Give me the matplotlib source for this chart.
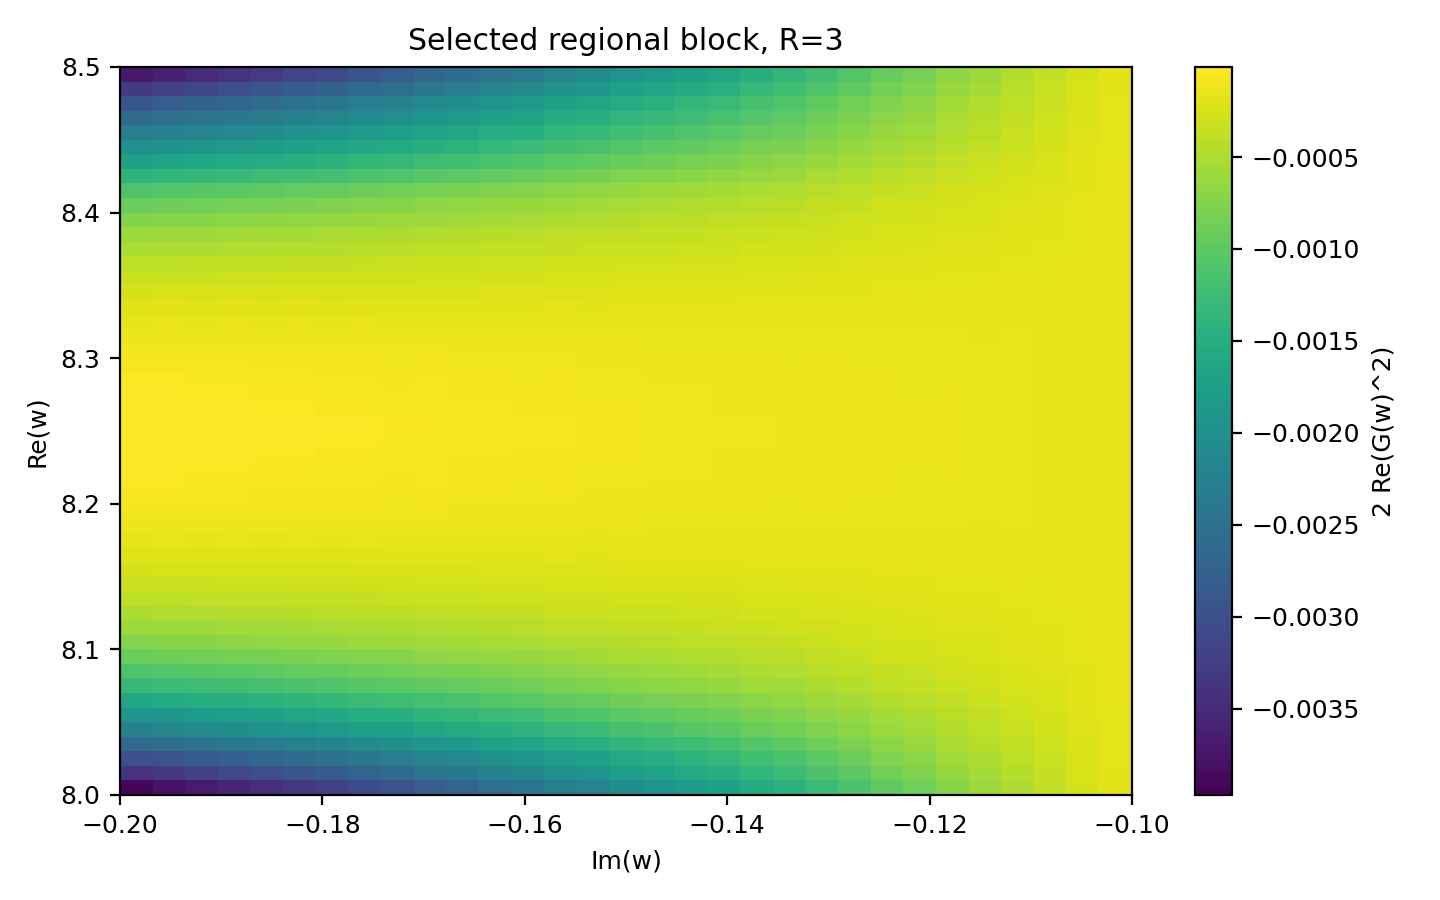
import matplotlib
matplotlib.use('Agg')
import matplotlib.pyplot as plt
import numpy as np

plt.rcParams['font.size'] = 9

# row edges along Re(w), column edges along Im(w)
re_edges = np.linspace(8.0, 8.5, 51)
im_edges = np.linspace(-0.2, -0.1, 32)

# value of 2 Re(G^2) in left column, bottom half of rows (bottom -> middle)
row_profile_low = [-0.0039, -0.0034, -0.0030, -0.0026, -0.0022, -0.0019, -0.0016, -0.0013,
                   -0.0011, -0.0009, -0.00073, -0.0006, -0.00049, -0.0004, -0.00032, -0.00025,
                   -0.00019, -0.00014, -0.0001, -0.00007, -0.00005, -0.00003, -0.00002, -0.00001, 0.0]
# top half of rows (middle -> top)
row_profile_high = [0.0, -0.00001, -0.00002, -0.00003, -0.00005, -0.00007, -0.0001, -0.00014,
                    -0.00019, -0.00025, -0.00032, -0.0004, -0.0005, -0.0006, -0.00075, -0.0009,
                    -0.0011, -0.0014, -0.0017, -0.0020, -0.0023, -0.0026, -0.0029, -0.0033, -0.0037]
# relative scale of edge depth per column, left to right
col_scale = [1.0, 0.97, 0.94, 0.91, 0.88, 0.85, 0.82, 0.78, 0.75, 0.71, 0.68, 0.64, 0.61, 0.57,
             0.54, 0.5, 0.47, 0.44, 0.41, 0.37, 0.34, 0.30, 0.26, 0.22, 0.19, 0.15, 0.12, 0.09,
             0.06, 0.03, 0.01]
# background level per column (center gets slightly duller to the right)
col_offset = [-0.00001, -0.00001, -0.00002, -0.00002, -0.00003, -0.00003, -0.00004, -0.00004,
              -0.00005, -0.00005, -0.00006, -0.00006, -0.00007, -0.00007, -0.00008, -0.00008,
              -0.00009, -0.00009, -0.0001, -0.0001, -0.00011, -0.00011, -0.00012, -0.00012,
              -0.00013, -0.00013, -0.00014, -0.00014, -0.00015, -0.00015, -0.00015]

row_profile = np.array(row_profile_low + row_profile_high)
vals = np.outer(row_profile, col_scale) + np.array(col_offset)[None, :]

fig = plt.figure(figsize=(7.2, 4.5), dpi=200)
ax = fig.add_axes([0.0833, 0.1167, 0.7028, 0.8089])
cax = fig.add_axes([0.8299, 0.1167, 0.0257, 0.8089])
mesh = ax.pcolormesh(im_edges, re_edges, vals, cmap='viridis', vmin=-0.00397, vmax=-0.00001)
ax.set_xlim(-0.2, -0.1)
ax.set_ylim(8.0, 8.5)
ax.set_xlabel('Im(w)')
ax.set_ylabel('Re(w)')
ax.set_title('Selected regional block, R=3')
cb = fig.colorbar(mesh, cax=cax)
cb.set_label('2 Re(G(w)^2)')
fig.savefig('out.png', dpi=200)
